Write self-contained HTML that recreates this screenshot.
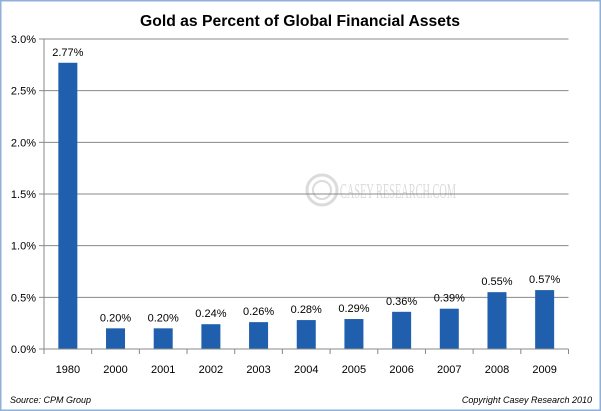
<!DOCTYPE html>
<html><head><meta charset="utf-8"><style>
body{margin:0;background:#fff;}
svg{display:block;font-family:"Liberation Sans",sans-serif;}
</style></head><body>
<svg width="601" height="411">
<rect x="0.5" y="0.5" width="600" height="410" fill="#fff" stroke="#8fb0d8" stroke-width="2"/>
<text x="300" y="26" text-anchor="middle" font-size="16" font-weight="bold" fill="#000" textLength="320" lengthAdjust="spacingAndGlyphs">Gold as Percent of Global Financial Assets</text>
<g opacity="0.35">
<circle cx="322" cy="190" r="15" fill="none" stroke="#999" stroke-width="3"/>
<circle cx="322" cy="190" r="9" fill="none" stroke="#999" stroke-width="2"/>
<text x="340" y="198" font-family="Liberation Serif,serif" font-size="21" fill="#999" textLength="116" lengthAdjust="spacingAndGlyphs">CASEY RESEARCH.COM</text>
</g>
<g id="grid"></g>
<g id="bars"></g>
<line x1="44" y1="39" x2="44" y2="349" stroke="#888"/>
<line x1="44" y1="349" x2="568.5" y2="349" stroke="#888"/>
<g id="ticks"></g>
<text x="10" y="403" font-size="9" font-style="italic" fill="#000">Source: CPM Group</text>
<text x="592" y="403" text-anchor="end" font-size="9" font-style="italic" fill="#000">Copyright  Casey Research  2010</text>
</svg>
<script>
const categories=["1980","2000","2001","2002","2003","2004","2005","2006","2007","2008","2009"];
const values=[2.77,0.20,0.20,0.24,0.26,0.28,0.29,0.36,0.39,0.55,0.57];
const yTicks=[0,0.5,1.0,1.5,2.0,2.5,3.0];
const NS="http://www.w3.org/2000/svg";
const x0=44,x1=568.5,y0=349,y1=39,ymax=3.0;
const bw=(x1-x0)/categories.length;
const y=v=>y0-(v/ymax)*(y0-y1);
function mk(t,a,p){const e=document.createElementNS(NS,t);for(const k in a)e.setAttribute(k,a[k]);p.appendChild(e);return e;}
const grid=document.getElementById('grid'),bars=document.getElementById('bars'),ticks=document.getElementById('ticks');
yTicks.forEach(v=>{
 if(v>0){const l=mk('line',{x1:x0,x2:x1,y1:y(v),y2:y(v),stroke:'#888'},grid);
 
 }
 const tk=mk('line',{x1:x0-5,x2:x0,y1:y(v),y2:y(v),stroke:'#888'},ticks);
 
 
 const t=mk('text',{x:x0-8,y:y(v)+4,'text-anchor':'end','font-size':'11',fill:'#000'},ticks);
 t.textContent=v.toFixed(1)+'%';
 
 
});
for(let i=0;i<=categories.length;i++){
 const tk=mk('line',{x1:x0+i*bw,x2:x0+i*bw,y1:y0,y2:y0+5,stroke:'#888'},ticks);
 
 
}
categories.forEach((c,i)=>{
 const cx=x0+(i+0.5)*bw,w=19;
 const r=mk('rect',{x:cx-w/2,y:y(values[i]),width:w,height:y0-y(values[i]),fill:'#1f5fad'},bars);
 
 
 const lv=mk('text',{x:cx,y:y(values[i])-7,'text-anchor':'middle','font-size':'11',fill:'#000'},bars);
 lv.textContent=values[i].toFixed(2)+'%';
 
 
 const lc=mk('text',{x:cx,y:373,'text-anchor':'middle','font-size':'11',fill:'#000'},ticks);
 lc.textContent=c;
 
 
});
</script>
</body></html>
